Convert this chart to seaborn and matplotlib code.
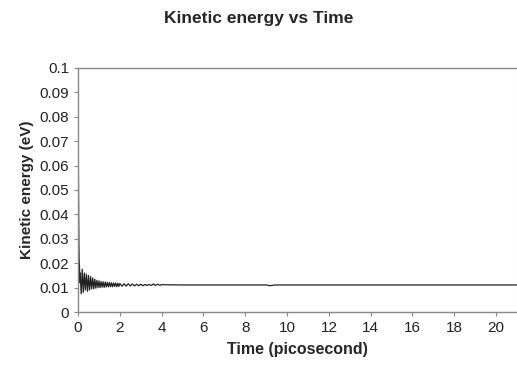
import matplotlib
matplotlib.use("Agg")
import matplotlib.pyplot as plt
import seaborn as sns
import pandas as pd

# time in picoseconds and kinetic energy in eV
time_ps = [0.0, 0.01, 0.02, 0.03, 0.04, 0.05, 0.07, 0.09,
           0.10, 0.15, 0.20, 0.25, 0.30, 0.35, 0.40, 0.45, 0.50, 0.55,
           0.60, 0.65, 0.70, 0.75, 0.80, 0.85, 0.90, 0.95, 1.00, 1.05,
           1.10, 1.15, 1.20, 1.25, 1.30, 1.35, 1.40, 1.45, 1.50, 1.55,
           1.60, 1.65, 1.70, 1.75, 1.80, 1.85, 1.90, 1.95, 2.00, 2.10,
           2.20, 2.30, 2.40, 2.50, 2.60, 2.70, 2.80, 2.90, 3.00, 3.10,
           3.20, 3.30, 3.40, 3.50, 3.60, 3.70, 3.80, 3.90, 4.00, 5.0,
           6.0, 7.0, 8.0, 9.0, 9.2, 9.4, 10.0, 12.0, 14.0, 16.0, 18.0, 21.0]
kinetic_ev = [0.085, 0.070, 0.052, 0.038, 0.028, 0.022, 0.018, 0.012,
              0.016, 0.0075, 0.0175, 0.008, 0.016, 0.009, 0.0155, 0.0085, 0.015, 0.009,
              0.0145, 0.0095, 0.014, 0.0095, 0.0135, 0.0098, 0.013, 0.0100, 0.0128, 0.0100,
              0.0125, 0.0102, 0.0124, 0.0101, 0.0123, 0.0103, 0.0122, 0.0103, 0.0121, 0.0104,
              0.0120, 0.0104, 0.0119, 0.0105, 0.0119, 0.0104, 0.0118, 0.0105, 0.0117, 0.0106,
              0.0116, 0.0106, 0.0116, 0.0107, 0.0115, 0.0107, 0.0114, 0.0108, 0.0114, 0.0108,
              0.0113, 0.0109, 0.0113, 0.0109, 0.0115, 0.0109, 0.0114, 0.0110, 0.0112, 0.0111,
              0.0111, 0.0111, 0.0111, 0.0111, 0.0108, 0.0111, 0.0111, 0.0111, 0.0111, 0.0111, 0.0111, 0.0111]

x_ticks = list(range(0, 21, 2))
y_ticks = [0, 0.01, 0.02, 0.03, 0.04, 0.05, 0.06, 0.07, 0.08, 0.09, 0.1]
y_labels = ["0", "0.01", "0.02", "0.03", "0.04", "0.05", "0.06", "0.07", "0.08", "0.09", "0.1"]

df = pd.DataFrame({"Time": time_ps, "KE": kinetic_ev})

sns.set_style("white")
plt.rcParams["font.family"] = ["Liberation Sans", "DejaVu Sans"]

fig = plt.figure(figsize=(5.17, 3.65), dpi=100)
ax = fig.add_axes([0.151, 0.145, 0.849, 0.669])

sns.lineplot(data=df, x="Time", y="KE", ax=ax, color="#222222", linewidth=0.9)

ax.set_xlim(0, 21)
ax.set_ylim(0, 0.1)
ax.set_xticks(x_ticks)
ax.set_yticks(y_ticks)
ax.set_yticklabels(y_labels)
ax.tick_params(axis="both", labelsize=11, colors="#222222", length=3,
               width=0.8, direction="out", bottom=True, left=True)
ax.tick_params(axis="both", color="#888888")

for side in ["left", "bottom", "top"]:
    ax.spines[side].set_color("#888888")
    ax.spines[side].set_linewidth(1.0)
ax.spines["right"].set_color("#dddddd")

ax.set_xlabel("Time (picosecond)", fontsize=11.5, fontweight="bold", labelpad=5)
ax.set_ylabel("Kinetic energy (eV)", fontsize=11, fontweight="bold", labelpad=4)
fig.suptitle("Kinetic energy vs Time", fontsize=12.5, fontweight="bold", y=0.97)

plt.savefig("out.png", dpi=100)
